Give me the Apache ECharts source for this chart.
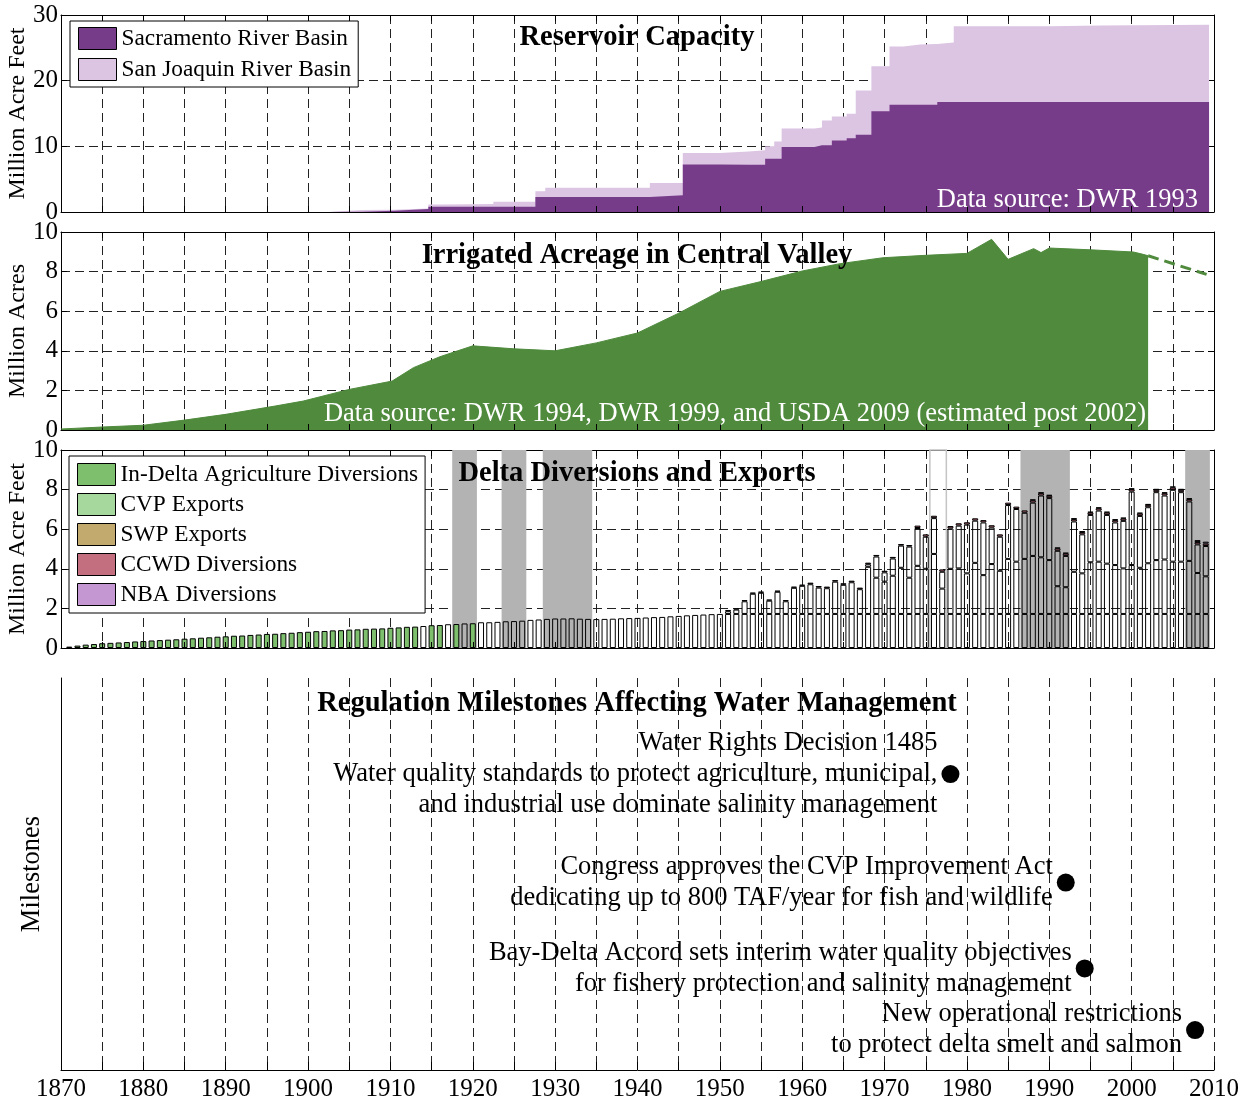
<!DOCTYPE html>
<html>
<head>
<meta charset="utf-8">
<title>Delta water management</title>
<script src="https://cdn.jsdelivr.net/npm/echarts@6/dist/echarts.min.js"></script>
<style>
  html, body { margin: 0; padding: 0; background: #fff; }
  #chart { width: 1247px; height: 1099px; }
</style>
</head>
<body>
<div id="chart"></div>
<script>
// reservoir capacity, million acre feet; each value holds until the next year listed
const capacityYears = [1870, 1902.4, 1906.6, 1910.5, 1914.6, 1916.4, 1922.5, 1927.6, 1928.8, 1941.5,
  1945.5, 1950, 1953.5, 1955.5, 1956.6, 1957.5, 1961.5, 1962.4, 1963.6, 1965.4,
  1966.5, 1968.4, 1970.6, 1972.3, 1974.3, 1976.4, 1978.4, 1990, 1996.4, 2009.4];
const sacramentoCap = [0, 0.05, 0.2, 0.45, 0.8, 0.8, 0.8, 2.3, 2.3, 2.55,
  7.25, 7.2, 7.2, 8.1, 8.1, 9.9, 10.15, 10.15, 10.9, 11.25,
  11.75, 15.35, 16.35, 16.35, 16.35, 16.75, 16.75, 16.75, 16.75, 16.75];
const sanJoaquinCap = [0, 0.25, 0.15, 0.1, 0.35, 0.4, 0.75, 0.85, 1.4, 1.85,
  1.75, 2.0, 2.2, 1.9, 2.65, 2.8, 2.7, 3.8, 3.65, 3.7,
  6.75, 6.85, 8.85, 9.15, 9.25, 9.05, 11.55, 11.65, 11.75, 11.75];

// irrigated acreage, million acres
const acreageYears = [1870, 1875, 1880, 1885, 1890, 1896, 1899.4, 1905, 1910.2, 1912.8,
  1916, 1920, 1925, 1930, 1935, 1940, 1945, 1950, 1955, 1960,
  1964.6, 1969.8, 1974.9, 1980, 1983, 1985, 1988.1, 1989, 1990, 1995,
  2000.2, 2001.4, 2002];
const acreage = [0.05, 0.15, 0.24, 0.5, 0.79, 1.21, 1.46, 2.05, 2.47, 3.15,
  3.7, 4.25, 4.1, 4.0, 4.4, 4.9, 5.9, 7.0, 7.5, 8.03,
  8.4, 8.7, 8.82, 8.92, 9.63, 8.62, 9.16, 8.96, 9.19, 9.1,
  8.99, 8.87, 8.8];
const acreageEstYears = [2002, 2009.1];
const acreageEst = [8.8, 7.86];

// delta diversions and exports, million acre feet, one bar a year
const barYears = [];
for (let yr = 1870; yr <= 2010; yr++) barYears.push(String(yr));
const agStartYear = 1871;
const inDeltaAg = [
  0.07, 0.12, 0.17, 0.20, 0.24, 0.26, 0.28, 0.30, 0.33, 0.35,   // 1871-1880
  0.38, 0.40, 0.42, 0.44, 0.47, 0.49, 0.52, 0.54, 0.57, 0.59,   // 1881-1890
  0.62, 0.63, 0.66, 0.68, 0.71, 0.72, 0.75, 0.77, 0.80, 0.82,   // 1891-1900
  0.85, 0.86, 0.89, 0.90, 0.93, 0.94, 0.97, 0.98, 0.99, 1.02,   // 1901-1910
  1.04, 1.07, 1.08, 1.11, 1.15, 1.16, 1.20, 1.21, 1.24, 1.25,   // 1911-1920
  1.30, 1.30, 1.32, 1.35, 1.36, 1.38, 1.42, 1.44, 1.47, 1.49,   // 1921-1930
  1.49, 1.50, 1.48, 1.47, 1.46, 1.47, 1.48, 1.50, 1.51, 1.52,   // 1931-1940
  1.54, 1.56, 1.57, 1.60, 1.62, 1.65, 1.67, 1.69, 1.71, 1.72,   // 1941-1950
  1.72, 1.72, 1.72, 1.72, 1.72, 1.72, 1.72, 1.72, 1.72, 1.72,   // 1951-1960
  1.72, 1.72, 1.72, 1.72, 1.72, 1.72, 1.72, 1.72, 1.72, 1.72,   // 1961-1970
  1.72, 1.72, 1.72, 1.72, 1.72, 1.72, 1.72, 1.72, 1.72, 1.72,   // 1971-1980
  1.72, 1.72, 1.72, 1.72, 1.72, 1.72, 1.72, 1.72, 1.72, 1.72,   // 1981-1990
  1.72, 1.72, 1.72, 1.72, 1.72, 1.72, 1.72, 1.72, 1.72, 1.72,   // 1991-2000
  1.72, 1.72, 1.72, 1.72, 1.72, 1.72, 1.72, 1.72, 1.72          // 2001-2009
];
const cvpStartYear = 1951;
const cvpExports = [
  0.14, 0.22, 0.64, 1.02, 1.07, 0.67, 1.12, 0.64, 1.32, 1.42,   // 1951-1960
  1.50, 1.33, 1.30, 1.63, 1.47, 1.60, 1.25, 2.38, 1.83, 1.63,   // 1961-1970
  1.93, 2.33, 1.83, 2.43, 2.28, 3.03, 1.28, 2.28, 2.30, 2.05,   // 1971-1980
  2.58, 1.96, 2.52, 2.18, 2.78, 2.64, 2.78, 2.93, 2.86, 2.72,   // 1981-1990
  1.40, 1.35, 2.13, 2.05, 2.61, 2.64, 2.54, 2.47, 2.30, 2.47,   // 1991-2000
  2.33, 2.56, 2.72, 2.75, 2.64, 2.64, 2.68, 2.07, 1.90          // 2001-2009
];
const swpStartYear = 1968;
const swpExports = [
  0.13, 1.07, 0.47, 0.87, 1.12, 1.57, 1.91, 1.62, 1.81, 0.85,   // 1968-1977
  2.04, 2.16, 2.46, 2.13, 2.66, 1.84, 1.72, 2.72, 2.66, 2.33,   // 1978-1987
  2.69, 3.12, 3.13, 1.79, 1.58, 2.54, 1.97, 2.39, 2.58, 2.46,   // 1988-1997
  2.15, 2.40, 3.71, 2.62, 2.83, 3.43, 3.23, 3.63, 3.51, 3.00,   // 1998-2007
  1.44, 1.53                                                    // 2008-2009
];
const ccwdStartYear = 1951;
const ccwdDiversions = [
  0.06, 0.06, 0.06, 0.06, 0.06, 0.06, 0.06, 0.06, 0.06, 0.06,   // 1951-1960
  0.08, 0.08, 0.08, 0.08, 0.08, 0.08, 0.08, 0.08, 0.08, 0.08,   // 1961-1970
  0.08, 0.08, 0.08, 0.12, 0.12, 0.12, 0.12, 0.12, 0.12, 0.12,   // 1971-1980
  0.12, 0.12, 0.12, 0.12, 0.12, 0.12, 0.12, 0.12, 0.12, 0.12,   // 1981-1990
  0.12, 0.12, 0.12, 0.12, 0.12, 0.12, 0.12, 0.12, 0.12, 0.12,   // 1991-2000
  0.12, 0.12, 0.12, 0.12, 0.12, 0.12, 0.12, 0.12, 0.12          // 2001-2009
];
const nbaStartYear = 1988;
const nbaDiversions = [
  0.04, 0.04, 0.04, 0.04, 0.04, 0.04, 0.04, 0.04, 0.04, 0.04,   // 1988-1997
  0.04, 0.04, 0.04, 0.04, 0.04, 0.04, 0.04, 0.04, 0.04, 0.04,   // 1998-2007
  0.10, 0.10                                                    // 2008-2009
];
// early bars drawn filled, except these years
const agFilledLastYear = 1920;
const agUnfilledYears = [1914, 1917, 1919];
// shaded dry periods
const dryPeriods = [[1917.5, 1920.5], [1923.5, 1926.5], [1928.5, 1934.5], [1986.5, 1992.5], [2006.5, 2009.5]];
const outlinedDryPeriod = [1975.5, 1977.5];

// regulation milestones
const milestoneYears = [1978, 1992, 1994.3, 2007.7];
const milestoneLevels = [0.755, 0.478, 0.259, 0.102];
const milestoneTexts = [
  'Water Rights Decision 1485\nWater quality standards to protect agriculture, municipal,\nand industrial use dominate salinity management',
  'Congress approves the CVP Improvement Act\ndedicating up to 800 TAF/year for fish and wildlife',
  'Bay-Delta Accord sets interim water quality objectives\nfor fishery protection and salinity management',
  'New operational restrictions\nto protect delta smelt and salmon'
];

const FONT = '"Liberation Serif", "Times New Roman", serif';
const sacColor = '#763b89';
const sjColor = '#dcc4e3';
const acreColor = '#4f8a3d';
const agColor = '#7dbf6c';
const cvpColor = '#a6d79c';
const swpColor = '#c2aa6e';
const ccwdColor = '#c46f7f';
const nbaColor = '#c497d2';
const dash = { type: [9, 5], color: '#222', width: 1 };

// one slot per category year, '-' where a series has no value
function alignToBars(startYear, values) {
  return barYears.map(y => {
    const k = Number(y) - startYear;
    return (k >= 0 && k < values.length) ? values[k] : '-';
  });
}

const grids = [
  { left: 61, right: 33, top: 15, height: 197 },
  { left: 61, right: 33, top: 232, height: 198 },
  { left: 61, right: 33, top: 450, height: 198 },
  { left: 61, right: 33, top: 678, height: 392 }
].map(g => Object.assign(g, { containLabel: false, outerBoundsMode: 'none' }));

const axisLine = { show: true, onZero: false, lineStyle: { color: '#000', width: 1 } };
const tick = { show: true, inside: true, length: 6, lineStyle: { color: '#000' } };
const xBase = { type: 'value', min: 1870, max: 2010, interval: 5 };

const xAxis = [];
const yAxis = [];
const yRanges = [[30, 10, 'Million Acre Feet'], [10, 2, 'Million Acres'], [10, 2, 'Million Acre Feet']];
for (let i = 0; i < 3; i++) {
  if (i === 2) {
    // bar panel: category years along the bottom, same span as the value axes
    xAxis.push({ type: 'category', data: barYears, boundaryGap: false, gridIndex: i, position: 'bottom', z: 3,
      axisLine, axisTick: Object.assign({}, tick, { interval: idx => idx % 5 === 0 }),
      axisLabel: { show: false }, splitLine: { show: false } });
  } else {
    xAxis.push(Object.assign({}, xBase, { gridIndex: i, position: 'bottom', z: 3, axisLine, axisTick: tick,
      axisLabel: { show: false }, splitLine: { show: false } }));
  }
  xAxis.push(Object.assign({}, xBase, { gridIndex: i, position: 'top', z: 0, axisLine, axisTick: tick,
    axisLabel: { show: false }, splitLine: { show: true, lineStyle: dash } }));
  const [max, interval, name] = yRanges[i];
  yAxis.push({ type: 'value', gridIndex: i, min: 0, max, interval, position: 'left', z: 3,
    axisLine, axisTick: tick, splitLine: { show: false },
    axisLabel: { color: '#000', fontFamily: FONT, fontSize: 25, margin: 3 },
    name, nameLocation: 'middle', nameGap: 31, nameMoveOverlap: false,
    nameTextStyle: { color: '#000', fontFamily: FONT, fontSize: 24 } });
  yAxis.push({ type: 'value', gridIndex: i, min: 0, max, interval, position: 'right', z: 0,
    axisLine, axisTick: tick, axisLabel: { show: false }, splitLine: { show: true, lineStyle: dash } });
}
xAxis.push(Object.assign({}, xBase, { gridIndex: 3, position: 'bottom', axisLine,
  axisTick: { show: true, inside: true, length: 8, lineStyle: { color: '#000' } },
  axisLabel: { color: '#000', fontFamily: FONT, fontSize: 25, margin: 7,
    formatter: v => (v % 10 === 0 ? String(v) : '') },
  splitLine: { show: true, lineStyle: dash } }));
yAxis.push({ type: 'value', gridIndex: 3, min: 0, max: 1, axisLine, axisTick: { show: false },
  axisLabel: { show: false }, splitLine: { show: false },
  name: 'Milestones', nameLocation: 'middle', nameGap: 15, nameMoveOverlap: false,
  nameTextStyle: { color: '#000', fontFamily: FONT, fontSize: 26.5 } });

const capTotal = capacityYears.map((yr, i) => [yr, sacramentoCap[i] + sanJoaquinCap[i]]);
const capSac = capacityYears.map((yr, i) => [yr, sacramentoCap[i]]);

const agData = alignToBars(agStartYear, inDeltaAg).map((v, i) => {
  const yr = Number(barYears[i]);
  const filled = v !== '-' && yr <= agFilledLastYear && agUnfilledYears.indexOf(yr) < 0;
  return filled ? { value: v, itemStyle: { color: agColor } } : v;
});

const barBase = { type: 'bar', xAxisIndex: 4, yAxisIndex: 4, stack: 'delta', barWidth: 6,
  itemStyle: { color: 'rgba(0,0,0,0)', borderColor: '#000', borderWidth: 1 } };

const markAreaData = dryPeriods.map(p => [{ xAxis: p[0] }, { xAxis: p[1] }]);
markAreaData.push([{ xAxis: outlinedDryPeriod[0],
  itemStyle: { color: 'rgba(0,0,0,0)', borderColor: '#c4c4c4', borderWidth: 1.5 } },
  { xAxis: outlinedDryPeriod[1] }]);

const series = [
  { name: 'San Joaquin River Basin', type: 'line', step: 'end', xAxisIndex: 0, yAxisIndex: 0,
    data: capTotal, symbol: 'none', lineStyle: { width: 0, color: sjColor }, itemStyle: { color: sjColor },
    areaStyle: { color: sjColor, opacity: 1 } },
  { name: 'Sacramento River Basin', type: 'line', step: 'end', xAxisIndex: 0, yAxisIndex: 0,
    data: capSac, symbol: 'none', lineStyle: { width: 0, color: sacColor }, itemStyle: { color: sacColor },
    areaStyle: { color: sacColor, opacity: 1 } },
  { name: 'Irrigated acreage', type: 'line', xAxisIndex: 2, yAxisIndex: 2,
    data: acreageYears.map((yr, i) => [yr, acreage[i]]), symbol: 'none',
    lineStyle: { width: 1, color: acreColor }, areaStyle: { color: acreColor, opacity: 1 } },
  { name: 'Irrigated acreage (estimated)', type: 'line', xAxisIndex: 2, yAxisIndex: 2,
    data: acreageEstYears.map((yr, i) => [yr, acreageEst[i]]), symbol: 'none',
    lineStyle: { width: 3, color: acreColor, type: [11, 6] } },
  // carries the dry-period shading on the value axis of the bar panel
  { name: 'Dry periods', type: 'line', xAxisIndex: 5, yAxisIndex: 4, data: [], z: 1,
    markArea: { silent: true, z: 1, label: { show: false },
      itemStyle: { color: '#b3b3b3', opacity: 1, borderWidth: 0 }, data: markAreaData } },
  Object.assign({}, barBase, { name: 'In-Delta Agriculture Diversions', data: agData }),
  Object.assign({}, barBase, { name: 'CVP Exports', data: alignToBars(cvpStartYear, cvpExports) }),
  Object.assign({}, barBase, { name: 'SWP Exports', data: alignToBars(swpStartYear, swpExports) }),
  Object.assign({}, barBase, { name: 'CCWD Diversions', data: alignToBars(ccwdStartYear, ccwdDiversions),
    itemStyle: { color: ccwdColor, borderColor: '#000', borderWidth: 1 } }),
  Object.assign({}, barBase, { name: 'NBA Diversions', data: alignToBars(nbaStartYear, nbaDiversions),
    itemStyle: { color: nbaColor, borderColor: '#000', borderWidth: 1 } }),
  { name: 'Milestones', type: 'scatter', xAxisIndex: 6, yAxisIndex: 6, symbolSize: 18,
    itemStyle: { color: '#000', opacity: 1 },
    data: milestoneYears.map((yr, i) => [yr, milestoneLevels[i]]),
    label: { show: true, position: 'left', distance: 4, color: '#000', opacity: 1, fontFamily: FONT,
      fontSize: 26.5, lineHeight: 31, align: 'right', formatter: p => milestoneTexts[p.dataIndex] } }
];

const legendBase = { orient: 'vertical', selectedMode: false, icon: 'rect', itemWidth: 38, itemHeight: 22,
  itemGap: 8, padding: [6, 7, 6, 8], borderColor: '#000', borderWidth: 1, backgroundColor: '#fff',
  itemStyle: { borderColor: '#000', borderWidth: 1 },
  textStyle: { color: '#000', fontFamily: FONT, fontSize: 23.3 } };
const swatch = (name, color) => ({ name, itemStyle: { color, borderColor: '#000', borderWidth: 1 } });

const legend = [
  Object.assign({}, legendBase, { left: 70, top: 21,
    data: [swatch('Sacramento River Basin', sacColor), swatch('San Joaquin River Basin', sjColor)] }),
  Object.assign({}, legendBase, { left: 69, top: 456, itemGap: 7, padding: [7, 7, 7, 8],
    data: [swatch('In-Delta Agriculture Diversions', agColor), swatch('CVP Exports', cvpColor),
      swatch('SWP Exports', swpColor), swatch('CCWD Diversions', ccwdColor), swatch('NBA Diversions', nbaColor)] })
];

const titleText = (text, y) => ({ type: 'text', x: 637, y, z: 50,
  style: { text, font: 'bold 28.5px ' + FONT, fill: '#000', align: 'center', verticalAlign: 'middle' } });
const noteText = (text, x, y) => ({ type: 'text', x, y, z: 50,
  style: { text, font: '26.5px ' + FONT, fill: '#fff', align: 'right', verticalAlign: 'middle' } });

const chart = echarts.init(document.getElementById('chart'), null, { renderer: 'canvas' });
chart.setOption({
  animation: false,
  backgroundColor: '#fff',
  textStyle: { fontFamily: FONT },
  grid: grids,
  xAxis,
  yAxis,
  legend,
  series,
  graphic: [
    titleText('Reservoir Capacity', 38),
    titleText('Irrigated Acreage in Central Valley', 256),
    titleText('Delta Diversions and Exports', 474),
    titleText('Regulation Milestones Affecting Water Management', 704),
    noteText('Data source: DWR 1993', 1198, 200),
    noteText('Data source: DWR 1994, DWR 1999, and USDA 2009 (estimated post 2002)', 1146, 414)
  ]
});
</script>
</body>
</html>
